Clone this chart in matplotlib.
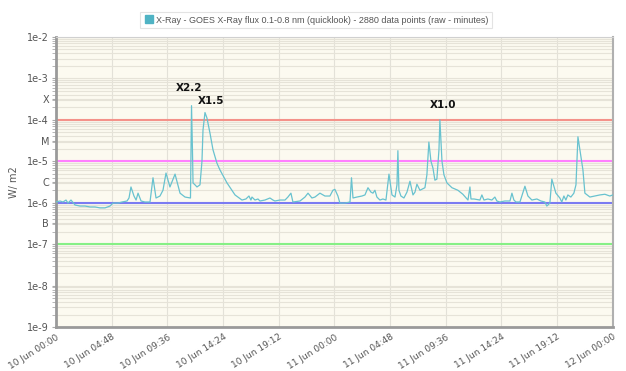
import numpy as np
import matplotlib
matplotlib.use("Agg")
import matplotlib.pyplot as plt
from matplotlib.lines import Line2D

# hours since 10 Jun 00:00, flux in units of 1e-6 W/m2
hours = [0.0, 0.34, 0.6, 0.86, 1.03, 1.29, 1.64, 2.07, 2.5, 2.93, 3.36, 3.79, 4.22,
         4.65, 4.91, 5.34, 5.69, 6.12, 6.29, 6.46, 6.72, 6.9, 7.07, 7.33, 7.67, 8.1,
         8.36, 8.62, 8.96, 9.22, 9.48, 9.82, 10.26, 10.69, 11.12, 11.59, 11.68, 11.76,
         11.81, 11.98, 12.15, 12.41, 12.58, 12.67, 12.84, 13.01, 13.27, 13.53, 13.87,
         14.13, 14.74, 15.43, 16.03, 16.37, 16.63, 16.8, 16.89, 17.15, 17.41, 17.58,
         18.01, 18.44, 18.7, 18.87, 19.3, 19.74, 19.99, 20.25, 20.42, 21.03, 21.46,
         21.72, 22.06, 22.32, 22.75, 23.18, 23.61, 23.87, 24.04, 24.3, 24.47, 24.91,
         25.34, 25.47, 25.6, 25.94, 26.37, 26.63, 26.89, 27.15, 27.32, 27.49, 27.66,
         27.92, 28.18, 28.44, 28.7, 28.96, 29.22, 29.39, 29.47, 29.56, 29.73, 29.99,
         30.25, 30.51, 30.77, 30.94, 31.11, 31.37, 31.8, 31.97, 32.14, 32.32, 32.49,
         32.66, 32.83, 33.01, 33.09, 33.27, 33.44, 33.7, 34.13, 34.64, 35.07, 35.51,
         35.68, 35.77, 36.03, 36.54, 36.71, 36.89, 37.23, 37.57, 37.83, 38.0, 38.26,
         38.69, 39.13, 39.3, 39.47, 39.65, 39.99, 40.42, 40.68, 41.02, 41.45, 41.8,
         42.14, 42.31, 42.57, 42.74, 43.09, 43.43, 43.6, 43.78, 43.95, 44.12, 44.38,
         44.64, 44.82, 44.99, 45.16, 45.42, 45.59, 46.02, 46.45, 46.88, 47.31, 47.74,
         48.0]
flux_e6 = [1.04, 1.1, 1.04, 1.16, 0.98, 1.16, 0.88, 0.83, 0.83, 0.79, 0.79, 0.75, 0.75,
           0.83, 0.98, 0.98, 1.04, 1.1, 1.3, 2.4, 1.45, 1.16, 1.7, 1.1, 1.04, 1.04,
           4.0, 1.3, 1.45, 2.0, 5.2, 2.4, 4.9, 1.7, 1.37, 1.3, 220, 19, 3.0, 2.7,
           2.4, 2.7, 10, 57, 150, 111, 48, 19, 9.0, 6.2, 3.0, 1.54, 1.16, 1.23,
           1.45, 1.16, 1.37, 1.16, 1.23, 1.1, 1.16, 1.3, 1.16, 1.1, 1.16, 1.16, 1.37,
           1.7, 1.04, 1.1, 1.37, 1.7, 1.3, 1.37, 1.7, 1.45, 1.45, 2.0, 2.1, 1.45, 0.98,
           0.98, 1.04, 4.0, 1.3, 1.37, 1.45, 1.54, 2.3, 1.8, 1.7, 2.0, 1.37, 1.16, 1.23,
           1.16, 4.9, 1.54, 1.37, 2.7, 18, 2.0, 1.45, 1.3, 1.8, 3.3, 1.54, 1.8, 2.8,
           2.0, 2.3, 4.7, 29, 10, 6.9, 3.5, 3.7, 19, 100, 10, 4.7, 3.0, 2.3, 2.0, 1.6,
           1.16, 2.4, 1.23, 1.23, 1.16, 1.54, 1.16, 1.23, 1.16, 1.37, 1.1, 1.04, 1.1,
           1.1, 1.7, 1.16, 1.04, 1.04, 2.5, 1.45, 1.16, 1.23, 1.1, 1.04, 0.83, 0.98,
           3.7, 1.7, 1.3, 1.04, 1.45, 1.16, 1.54, 1.37, 1.7, 2.7, 39, 19, 6.2, 1.7,
           1.37, 1.45, 1.54, 1.6, 1.45, 1.54]

tick_hours = [0, 4.8, 9.6, 14.4, 19.2, 24, 28.8, 33.6, 38.4, 43.2, 48]
tick_labels = ["10 Jun 00:00", "10 Jun 04:48", "10 Jun 09:36", "10 Jun 14:24",
               "10 Jun 19:12", "11 Jun 00:00", "11 Jun 04:48", "11 Jun 09:36",
               "11 Jun 14:24", "11 Jun 19:12", "12 Jun 00:00"]

class_levels = [1e-4, 1e-5, 1e-6, 1e-7]
class_colors = ["#f4928a", "#ff80ff", "#7b7bf2", "#86f086"]

flares = ["X2.2", "X1.5", "X1.0"]
flare_hours = [11.5, 13.36, 33.35]
flare_flux = [5.9e-4, 2.85e-4, 2.3e-4]

flux = np.array(flux_e6) * 1e-6

fig = plt.figure(figsize=(6.26, 3.71), dpi=100)
ax = fig.add_axes([0.0895, 0.1186, 0.8895, 0.7817])
ax.set_facecolor("#fcfaf0")

ax.set_yscale("log")
ax.set_ylim(1e-9, 1e-2)
ax.set_xlim(0, 48)

# y ticks: decades plus flare class letters half way between
major = [1e-9, 1e-8, 1e-7, 10**-6.5, 1e-6, 10**-5.5, 1e-5, 10**-4.5, 1e-4, 10**-3.5, 1e-3, 1e-2]
major_lbl = ["1e-9", "1e-8", "1e-7", "B", "1e-6", "C", "1e-5", "M", "1e-4", "X", "1e-3", "1e-2"]
ax.set_yticks(major)
ax.set_yticklabels(major_lbl)
minor = [m * 10.0**e for e in range(-9, -2) for m in range(2, 10)]
ax.set_yticks(minor, minor=True)
ax.yaxis.grid(True, which="both", color="#e6e3d8", lw=0.8)
ax.tick_params(axis="y", which="both", length=3, color="#aaaaaa", labelsize=7,
               labelcolor="#555555", pad=2)

ax.set_xticks(tick_hours)
ax.set_xticklabels(tick_labels, rotation=32, ha="right", rotation_mode="anchor")
ax.xaxis.grid(True, color="#e3e1d8", lw=0.8)
ax.tick_params(axis="x", length=0, labelsize=6.5, labelcolor="#555555", pad=4)

for lev, c in zip(class_levels, class_colors):
    ax.axhline(lev, color=c, lw=1.5, zorder=2)

ax.plot(hours, flux, color="#68c2cf", lw=0.9, zorder=3)

for name, h, f in zip(flares, flare_hours, flare_flux):
    ax.text(h, f, name, ha="center", va="center", fontsize=7.5, fontweight="bold",
            color="#111111")

ax.set_ylabel("W/ m2", fontsize=7, color="#555555", labelpad=6)

for s in ["left", "bottom"]:
    ax.spines[s].set_color("#9a9a9a")
    ax.spines[s].set_linewidth(2)
ax.spines["right"].set_color("#b0b0b0")
ax.spines["right"].set_linewidth(1.5)
ax.spines["top"].set_color("#d0d0d0")
ax.spines["top"].set_linewidth(0.8)

handle = Line2D([], [], marker="s", color="#4fb3c4", linestyle="none", markersize=6)
leg = fig.legend([handle], ["X-Ray - GOES X-Ray flux 0.1-0.8 nm (quicklook) - 2880 data points (raw - minutes)"],
                 loc="center", bbox_to_anchor=(0.505, 0.946), frameon=True,
                 prop={"family": "Liberation Sans", "size": 6.5},
                 handletextpad=0.3, borderpad=0.4, fancybox=False, handlelength=1.0)
leg.get_frame().set_edgecolor("#dddddd")
leg.get_frame().set_linewidth(0.8)
for t in leg.get_texts():
    t.set_color("#555555")

fig.savefig("out.png", dpi=100)
